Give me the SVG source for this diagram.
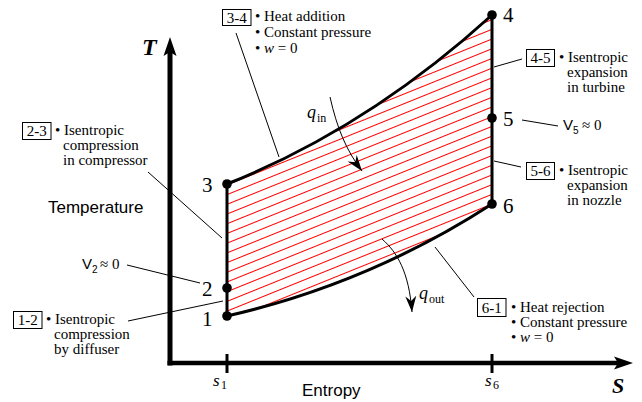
<svg xmlns="http://www.w3.org/2000/svg" width="642" height="402" viewBox="0 0 642 402">
<style>
.lead{stroke:#000;stroke-width:1;fill:none}
.box{fill:#fff;stroke:#000;stroke-width:1}
.proc{stroke:#000;stroke-width:3;fill:none;stroke-linecap:round}
.dot{fill:#000}
</style>
<defs>
<pattern id="hatch" patternUnits="userSpaceOnUse" width="40" height="9" patternTransform="rotate(-22)">
<line x1="-5" y1="4.5" x2="45" y2="4.5" stroke="#ff0000" stroke-width="1"/>
</pattern>
<marker id="ah" viewBox="-16 -6 17 12" refX="0" refY="0" markerWidth="17" markerHeight="12" markerUnits="userSpaceOnUse" orient="auto">
<path d="M0,0 L-16,-5.5 L-11,0 L-16,5.5 Z" fill="#000"/>
</marker>
</defs>

<g id="cycle-area">
<path d="M227,316 L227,184 C315,149 404,95 492,15 L492,204 C404,261 315,296 227,316 Z" fill="url(#hatch)" stroke="none"/>
</g>

<g id="axes">
<line x1="170" y1="365.5" x2="170" y2="50" stroke="#000" stroke-width="5"/>
<polygon points="170,37 163.5,56 170,52 176.5,56" fill="#000"/>
<line x1="167.5" y1="363" x2="620" y2="363" stroke="#000" stroke-width="4.5"/>
<polygon points="633,363 614,356.5 618,363 614,369.5" fill="#000"/>
<line x1="227" y1="354" x2="227" y2="373" stroke="#000" stroke-width="3"/>
<line x1="492" y1="354" x2="492" y2="373" stroke="#000" stroke-width="3"/>
<g font-family="Liberation Serif, Times New Roman, serif" fill="#000">
<text x="142" y="55" font-size="24" font-style="italic" font-weight="bold">T</text>
<text x="612" y="393" font-size="22" font-style="italic" font-weight="bold">S</text>
<text x="213" y="386" font-style="italic" font-size="17">s</text>
<text x="221" y="389" font-size="12">1</text>
<text x="485" y="386" font-style="italic" font-size="17">s</text>
<text x="493" y="389" font-size="12">6</text>
</g>
<g font-family="Liberation Sans, Arial, sans-serif" font-size="17" fill="#000">
<text x="48" y="213">Temperature</text>
<text x="302" y="396">Entropy</text>
</g>
</g>

<g id="connectors">
<path class="proc" d="M227,316 L227,184"/>
<path class="proc" d="M227,184 C315,149 404,95 492,15"/>
<path class="proc" d="M492,15 L492,204"/>
<path class="proc" d="M492,204 C404,261 315,296 227,316"/>
<line class="lead" x1="236" y1="33" x2="279" y2="157"/>
<line class="lead" x1="148" y1="172" x2="222" y2="238"/>
<line class="lead" x1="127" y1="265" x2="200" y2="283"/>
<line class="lead" x1="128" y1="321" x2="223" y2="301"/>
<line class="lead" x1="494" y1="67" x2="522" y2="59"/>
<line class="lead" x1="522" y1="120" x2="558" y2="126"/>
<line class="lead" x1="494" y1="161" x2="521" y2="167"/>
<line class="lead" x1="474" y1="297" x2="435" y2="247"/>
<path d="M330,97 C337,128 346,150 362,171" fill="none" stroke="#000" stroke-width="1" marker-end="url(#ah)"/>
<path d="M382,239 C397,252 409,272 412,312" fill="none" stroke="#000" stroke-width="1" marker-end="url(#ah)"/>
</g>

<g font-family="Liberation Serif, Times New Roman, serif" font-size="21" fill="#000">
<g id="node-1"><circle class="dot" cx="227" cy="316" r="4.8"/><text x="202" y="326">1</text></g>
<g id="node-2"><circle class="dot" cx="227" cy="288" r="4.8"/><text x="202" y="296">2</text></g>
<g id="node-3"><circle class="dot" cx="227" cy="184" r="4.8"/><text x="202" y="192">3</text></g>
<g id="node-4"><circle class="dot" cx="492" cy="15" r="4.8"/><text x="503" y="22">4</text></g>
<g id="node-5"><circle class="dot" cx="492" cy="118" r="4.8"/><text x="503" y="126">5</text></g>
<g id="node-6"><circle class="dot" cx="492" cy="204" r="4.8"/><text x="503" y="213">6</text></g>
</g>

<g font-family="Liberation Serif, Times New Roman, serif" font-size="15" fill="#000">
<g id="label-34">
<rect class="box" x="222.5" y="9.5" width="28.5" height="16"/>
<text x="236.7" y="22.5" text-anchor="middle">3-4</text>
<text x="255" y="21">• Heat addition</text>
<text x="255" y="37">• Constant pressure</text>
<text x="255" y="53">• <tspan font-style="italic">w</tspan> = 0</text>
</g>

<g id="label-23">
<rect class="box" x="22.5" y="122.5" width="28.5" height="17"/>
<text x="36.7" y="136" text-anchor="middle">2-3</text>
<text x="55" y="135">• Isentropic</text>
<text x="63" y="150">compression</text>
<text x="63" y="165">in compressor</text>
</g>

<g id="label-v2">
<text x="82" y="269" font-family="Liberation Sans, Arial, sans-serif" font-size="15">V</text>
<text x="92" y="273" font-family="Liberation Sans, Arial, sans-serif" font-size="10">2</text>
<text x="100" y="269">≈ 0</text>
</g>

<g id="label-12">
<rect class="box" x="13.5" y="311.5" width="28.5" height="17"/>
<text x="27.7" y="325" text-anchor="middle">1-2</text>
<text x="46" y="324">• Isentropic</text>
<text x="54" y="339">compression</text>
<text x="54" y="354">by diffuser</text>
</g>

<g id="label-45">
<rect class="box" x="526.5" y="49.5" width="28" height="17"/>
<text x="540.5" y="63" text-anchor="middle">4-5</text>
<text x="559" y="62">• Isentropic</text>
<text x="567" y="77">expansion</text>
<text x="567" y="92">in turbine</text>
</g>

<g id="label-v5">
<text x="563" y="130" font-family="Liberation Sans, Arial, sans-serif" font-size="15">V</text>
<text x="573" y="134" font-family="Liberation Sans, Arial, sans-serif" font-size="10">5</text>
<text x="582" y="130">≈ 0</text>
</g>

<g id="label-56">
<rect class="box" x="526.5" y="162.5" width="28" height="17"/>
<text x="540.5" y="176" text-anchor="middle">5-6</text>
<text x="559" y="175">• Isentropic</text>
<text x="567" y="190">expansion</text>
<text x="567" y="205">in nozzle</text>
</g>

<g id="label-61">
<rect class="box" x="477.5" y="298.5" width="28.5" height="18"/>
<text x="491.7" y="312.5" text-anchor="middle">6-1</text>
<text x="511" y="312">• Heat rejection</text>
<text x="511" y="327">• Constant pressure</text>
<text x="511" y="342">• <tspan font-style="italic">w</tspan> = 0</text>
</g>

<g id="label-qin">
<text x="307" y="118" font-style="italic" font-size="18">q</text>
<text x="317" y="122" font-size="12">in</text>
</g>
<g id="label-qout">
<text x="419" y="299" font-style="italic" font-size="18">q</text>
<text x="429" y="303" font-size="12">out</text>
</g>
</g>
</svg>
